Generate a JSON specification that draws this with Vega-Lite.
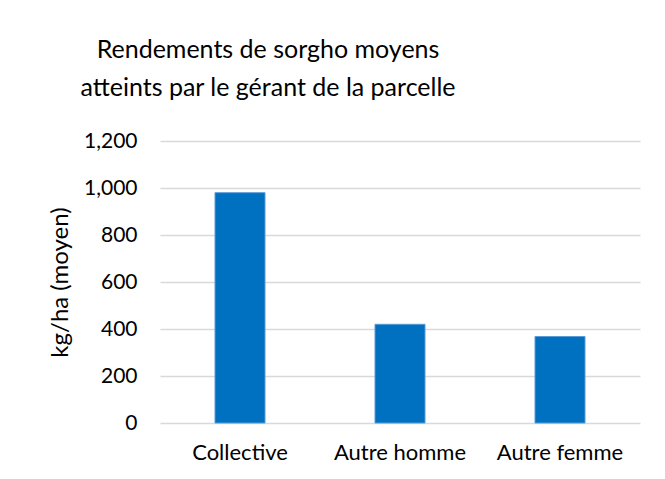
{
  "$schema": "https://vega.github.io/schema/vega-lite/v6.json",
  "autosize": {"type": "none"},
  "padding": {"left": 160, "top": 141, "right": 25, "bottom": 56},
  "width": 480,
  "height": 282,
  "background": "white",
  "title": {
    "text": ["Rendements de sorgho moyens", "atteints par le  gérant de la parcelle"],
    "anchor": "middle",
    "frame": "group",
    "dx": -132,
    "offset": 29,
    "font": "Lato",
    "fontSize": 25,
    "fontWeight": "normal",
    "color": "#000000",
    "lineHeight": 38
  },
  "data": {
    "values": [
      {"gerant": "Collective", "rendement": 980},
      {"gerant": "Autre homme", "rendement": 420},
      {"gerant": "Autre femme", "rendement": 368}
    ]
  },
  "mark": {"type": "bar", "color": "#0070C0", "stroke": "#5B9BD5", "strokeWidth": 1},
  "encoding": {
    "x": {
      "field": "gerant",
      "type": "nominal",
      "sort": null,
      "scale": {"paddingInner": 0.6875, "paddingOuter": 0.34375},
      "axis": {
        "title": null,
        "labelAngle": 0,
        "ticks": false,
        "domain": false,
        "labelPadding": 19,
        "labelFont": "Lato",
        "labelFontSize": 22,
        "labelColor": "#000000"
      }
    },
    "y": {
      "field": "rendement",
      "type": "quantitative",
      "scale": {"domain": [0, 1200]},
      "axis": {
        "title": "kg/ha (moyen)",
        "values": [0, 200, 400, 600, 800, 1000, 1200],
        "format": ",d",
        "ticks": false,
        "domain": false,
        "labelPadding": 23,
        "labelFont": "Lato",
        "labelFontSize": 21,
        "labelColor": "#000000",
        "titleFont": "Lato",
        "titleFontSize": 24,
        "titleFontWeight": "normal",
        "titleColor": "#000000",
        "titlePadding": 11,
        "grid": true,
        "gridColor": "#D9D9D9",
        "gridWidth": 1.5
      }
    }
  },
  "config": {"view": {"stroke": null}}
}
